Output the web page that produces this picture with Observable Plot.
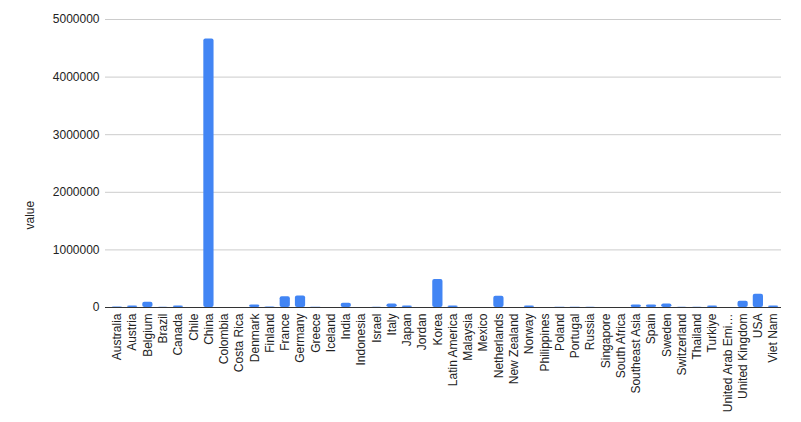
<!DOCTYPE html>
<html>
<head>
<meta charset="utf-8">
<script src="https://cdn.jsdelivr.net/npm/d3@7"></script>
<script src="https://cdn.jsdelivr.net/npm/@observablehq/plot@0.6"></script>
<style>
  body { margin: 0; background: #fff; }
  #chart svg { font-family: "Liberation Sans", Arial, sans-serif; }
</style>
</head>
<body>
<div id="chart"></div>
<script>
const paises = [
  'Australia', 'Austria', 'Belgium', 'Brazil', 'Canada', 'Chile', 'China', 'Colombia',
  'Costa Rica', 'Denmark', 'Finland', 'France', 'Germany', 'Greece', 'Iceland', 'India',
  'Indonesia', 'Israel', 'Italy', 'Japan', 'Jordan', 'Korea', 'Latin America', 'Malaysia',
  'Mexico', 'Netherlands', 'New Zealand', 'Norway', 'Philippines', 'Poland', 'Portugal',
  'Russia', 'Singapore', 'South Africa', 'Southeast Asia', 'Spain', 'Sweden', 'Switzerland',
  'Thailand', 'Turkiye', 'United Arab Emirates', 'United Kingdom', 'USA', 'Viet Nam'
];
const valores = [
  10000, 25000, 90000, 5000, 28000, 2000, 4660000, 1000,
  1000, 45000, 8000, 185000, 200000, 6000, 1000, 75000,
  2000, 5000, 60000, 28000, 1000, 485000, 28000, 1000,
  1000, 195000, 1000, 25000, 1000, 6000, 6000,
  5000, 1000, 1000, 45000, 45000, 60000, 5000,
  5000, 25000, 1000, 110000, 230000, 25000
];
const ticksY = [0, 1000000, 2000000, 3000000, 4000000, 5000000];

const data = paises.map((p, i) => ({pais: p, valor: valores[i]}));

const recortar = (s) => s.length > 15 ? s.slice(0, 15) + '…' : s;

let chart = Plot.plot({
  width: 801,
  height: 422,
  marginLeft: 105,
  marginRight: 20,
  marginTop: 19,
  marginBottom: 115,
  style: {fontSize: '12px', color: '#222', background: '#fff'},
  x: {
    domain: paises,
    insetLeft: 4,
    paddingInner: 0.33,
    paddingOuter: 0.18,
    round: false,
    label: null,
    tickSize: 0,
    tickPadding: 6,
    tickRotate: -90,
    tickFormat: recortar,
  },
  y: {
    domain: [0, 5000000],
    ticks: ticksY,
    tickFormat: (d) => `${d}`,
    label: null,
    tickSize: 0,
    tickPadding: 6,
  },
  marks: [
    Plot.ruleY(ticksY.filter((d) => d > 0), {stroke: '#ccc'}),
    Plot.barY(data, {x: 'pais', y: 'valor', fill: '#4285f4', rx: 2}),
    Plot.ruleY([0], {stroke: '#333'}),
    Plot.text(['value'], {
      frameAnchor: 'left',
      dx: -75,
      dy: 66,
      rotate: -90,
      fill: '#222',
      fontSize: 12,
    }),
  ],
});

d3.select('#chart').append(() => chart);
</script>
</body>
</html>
